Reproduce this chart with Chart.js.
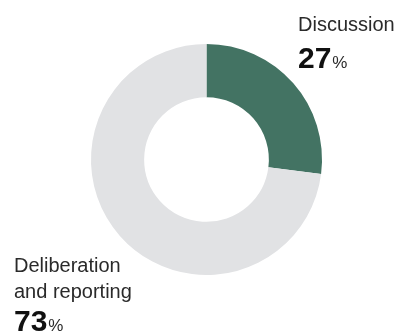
<!DOCTYPE html>
<html>
<head>
<meta charset="utf-8">
<script src="https://cdn.jsdelivr.net/npm/chart.js@4/dist/chart.umd.min.js"></script>
<style>
html,body{margin:0;padding:0;background:#fff;}
#wrap{position:relative;width:403px;height:336px;}
</style>
</head>
<body>
<div id="wrap"><canvas id="c" width="403" height="336"></canvas></div>
<script>
const categories = ["Discussion", "Deliberation and reporting"];
const labelLines = [["Discussion"], ["Deliberation", "and reporting"]];
const values = [27, 73];
const colors = ["#437363", "#e1e2e4"];

const labelPlugin = {
  id: "labels",
  afterDraw(chart) {
    const ctx = chart.ctx;
    ctx.save();
    ctx.textBaseline = "alphabetic";
    ctx.textAlign = "left";
    const pos = [
      {x: 298, y: 31, ny: 68},
      {x: 14, y: 272, ny: 331}
    ];
    values.forEach((v, i) => {
      const p = pos[i];
      ctx.fillStyle = "#2a2a2a";
      ctx.font = "20px 'Liberation Sans', Arial, sans-serif";
      labelLines[i].forEach((ln, j) => ctx.fillText(ln, p.x, p.y + j * 26));
      ctx.fillStyle = "#111";
      ctx.font = "bold 30px 'Liberation Sans', Arial, sans-serif";
      const num = String(v);
      ctx.fillText(num, p.x, p.ny);
      const w = ctx.measureText(num).width;
      ctx.fillStyle = "#2a2a2a";
      ctx.font = "17px 'Liberation Sans', Arial, sans-serif";
      ctx.fillText("%", p.x + w + 1, p.ny);
    });
    ctx.restore();
  }
};

new Chart(document.getElementById("c"), {
  type: "doughnut",
  data: {
    labels: categories,
    datasets: [{
      data: values,
      backgroundColor: colors,
      borderWidth: 0,
      hoverOffset: 0
    }]
  },
  options: {
    responsive: false,
    animation: false,
    cutout: "54%",
    rotation: 0,
    layout: { padding: { left: 91, right: 81, top: 44, bottom: 61 } },
    plugins: { legend: { display: false }, tooltip: { enabled: false } },
    events: []
  },
  plugins: [labelPlugin]
});
</script>
</body>
</html>
